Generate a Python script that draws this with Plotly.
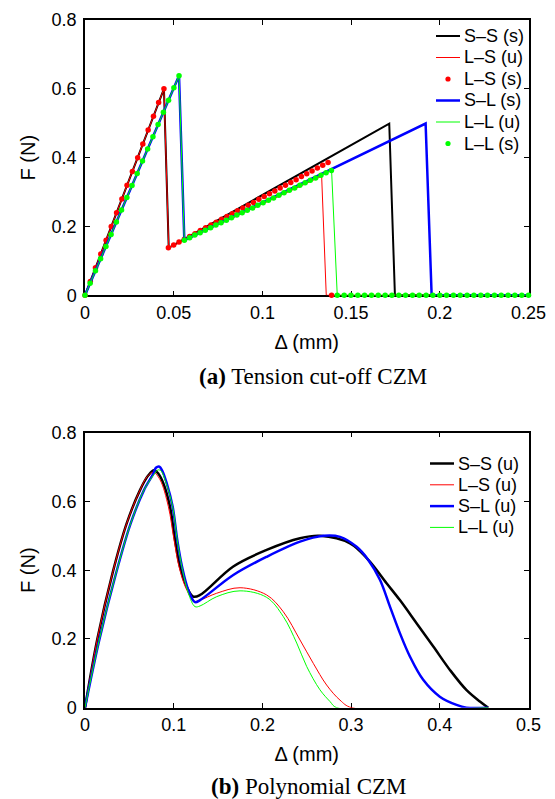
import plotly.graph_objects as go

# ---------------- (a) Tension cut-off CZM ----------------
ss_s_x = [0, 0.0445, 0.0472, 0.1715, 0.1747, 0.25]
ss_s_y = [0, 0.600, 0.138, 0.499, 0, 0]

ls_u_x = [0, 0.0445, 0.0472, 0.1334, 0.1360, 0.25]
ls_u_y = [0, 0.600, 0.138, 0.346, 0, 0]

ls_s_x = [0.0000, 0.0030, 0.0059, 0.0089, 0.0119, 0.0148, 0.0178, 0.0208, 0.0237, 0.0267,
          0.0297, 0.0326, 0.0356, 0.0386, 0.0415, 0.0445,
          0.047, 0.050, 0.053, 0.056, 0.059, 0.062, 0.065, 0.068, 0.071, 0.074,
          0.077, 0.080, 0.083, 0.086, 0.089, 0.092, 0.095, 0.098, 0.101, 0.104,
          0.107, 0.110, 0.113, 0.116, 0.119, 0.122, 0.125, 0.128, 0.131, 0.134,
          0.137, 0.139]
ls_s_y = [0.00, 0.04, 0.08, 0.12, 0.16, 0.20, 0.24, 0.28, 0.32, 0.36,
          0.40, 0.44, 0.48, 0.52, 0.56, 0.60,
          0.138, 0.146, 0.155, 0.163, 0.171, 0.179, 0.188, 0.196, 0.204, 0.212,
          0.221, 0.229, 0.237, 0.246, 0.254, 0.262, 0.270, 0.279, 0.287, 0.295,
          0.303, 0.312, 0.320, 0.328, 0.336, 0.345, 0.353, 0.361, 0.370, 0.378,
          0.386, 0.0]

sl_s_x = [0, 0.0530, 0.0560, 0.1920, 0.1954, 0.25]
sl_s_y = [0, 0.638, 0.160, 0.499, 0, 0]

ll_u_x = [0, 0.0530, 0.0560, 0.1390, 0.1422, 0.25]
ll_u_y = [0, 0.638, 0.160, 0.363, 0, 0]

ll_s_x = [0.0000, 0.0029, 0.0059, 0.0088, 0.0118, 0.0147, 0.0177, 0.0206, 0.0236, 0.0265,
          0.0294, 0.0324, 0.0353, 0.0383, 0.0412, 0.0442, 0.0471, 0.0501, 0.0530,
          0.0560, 0.0590, 0.0619, 0.0649, 0.0678, 0.0708, 0.0738, 0.0767, 0.0797, 0.0826,
          0.0856, 0.0886, 0.0915, 0.0945, 0.0974, 0.1004, 0.1034, 0.1063, 0.1093, 0.1122,
          0.1152, 0.1182, 0.1211, 0.1241, 0.1270, 0.1300, 0.1330, 0.1359, 0.1389,
          0.1422, 0.1461, 0.1499, 0.1538, 0.1576, 0.1615, 0.1653, 0.1692, 0.1730, 0.1769,
          0.1807, 0.1846, 0.1884, 0.1923, 0.1961, 0.2000, 0.2038, 0.2077, 0.2115, 0.2154,
          0.2192, 0.2231, 0.2269, 0.2308, 0.2346, 0.2385, 0.2423, 0.2462, 0.2500]
ll_s_y = [0.000, 0.035, 0.071, 0.106, 0.142, 0.177, 0.213, 0.248, 0.284, 0.319,
          0.354, 0.390, 0.425, 0.461, 0.496, 0.532, 0.567, 0.603, 0.638,
          0.160, 0.167, 0.175, 0.182, 0.189, 0.196, 0.204, 0.211, 0.218, 0.225,
          0.233, 0.240, 0.247, 0.254, 0.262, 0.269, 0.276, 0.283, 0.291, 0.298,
          0.305, 0.312, 0.320, 0.327, 0.334, 0.341, 0.349, 0.356, 0.363,
          0, 0, 0, 0, 0, 0, 0, 0, 0, 0,
          0, 0, 0, 0, 0, 0, 0, 0, 0, 0,
          0, 0, 0, 0, 0, 0, 0, 0, 0]

# ---------------- (b) Polynomial CZM ----------------
ss_u_x = [0, 0.0139, 0.0312, 0.0470, 0.0620, 0.0714, 0.0778, 0.0830, 0.0883, 0.0958,
          0.1015, 0.1071, 0.1146, 0.1221, 0.1297, 0.1672, 0.2048, 0.2424, 0.2650, 0.2988,
          0.3194, 0.3400, 0.3550, 0.3740, 0.3927, 0.4114, 0.4302, 0.4452, 0.4546]
ss_u_y = [0, 0.200, 0.393, 0.536, 0.633, 0.676, 0.691, 0.680, 0.653, 0.585,
          0.488, 0.410, 0.352, 0.323, 0.328, 0.411, 0.459, 0.493, 0.500, 0.478,
          0.430, 0.362, 0.313, 0.245, 0.178, 0.110, 0.051, 0.018, 0]

lsb_u_x = [0, 0.0139, 0.0312, 0.0470, 0.0620, 0.0700, 0.0770, 0.0846, 0.0940, 0.1004,
           0.1060, 0.1139, 0.1229, 0.1297, 0.1485, 0.1748, 0.2048, 0.2236, 0.2424, 0.2574,
           0.2724, 0.2875, 0.3006, 0.4546]
lsb_u_y = [0, 0.200, 0.393, 0.536, 0.633, 0.672, 0.685, 0.663, 0.585, 0.488,
           0.410, 0.347, 0.310, 0.313, 0.333, 0.349, 0.328, 0.279, 0.197, 0.129,
           0.066, 0.022, 0, 0]

sl_u_x = [0, 0.0161, 0.0350, 0.0515, 0.0665, 0.0771, 0.0800, 0.0840, 0.0870, 0.0921,
          0.0988, 0.1040, 0.1094, 0.1165, 0.1240, 0.1297, 0.1672, 0.2048, 0.2424, 0.2687,
          0.2875, 0.3062, 0.3194, 0.3325, 0.3438, 0.3550, 0.3663, 0.3813, 0.4000, 0.4189,
          0.4300, 0.4546]
sl_u_y = [0, 0.197, 0.391, 0.536, 0.633, 0.681, 0.698, 0.701, 0.690, 0.653,
          0.585, 0.488, 0.410, 0.342, 0.307, 0.313, 0.386, 0.439, 0.483, 0.500,
          0.497, 0.468, 0.430, 0.372, 0.294, 0.217, 0.149, 0.081, 0.032, 0.008,
          0, 0]

llb_u_x = [0, 0.0161, 0.0350, 0.0515, 0.0665, 0.0771, 0.0825, 0.0860, 0.0902, 0.0988,
           0.1040, 0.1100, 0.1165, 0.1240, 0.1297, 0.1485, 0.1748, 0.2048, 0.2236, 0.2387,
           0.2499, 0.2649, 0.2762, 0.2837, 0.4546]
llb_u_y = [0, 0.197, 0.391, 0.536, 0.633, 0.676, 0.692, 0.688, 0.663, 0.585,
           0.488, 0.400, 0.333, 0.294, 0.296, 0.323, 0.340, 0.321, 0.265, 0.188,
           0.120, 0.052, 0.018, 0, 0]

# tick labels
xa_ticks = [0, 0.05, 0.1, 0.15, 0.2, 0.25]
xa_text = ["0", "0.05", "0.1", "0.15", "0.2", "0.25"]
xb_ticks = [0, 0.1, 0.2, 0.3, 0.4, 0.5]
xb_text = ["0", "0.1", "0.2", "0.3", "0.4", "0.5"]
y_ticks = [0, 0.2, 0.4, 0.6, 0.8]
y_text = ["0", "0.2", "0.4", "0.6", "0.8"]

legend_a = ["S–S (s)", "L–S (u)", "L–S (s)", "S–L (s)", "L–L (u)", "L–L (s)"]
legend_b = ["S–S (u)", "L–S (u)", "S–L (u)", "L–L (u)"]

BLACK, RED, BLUE, GREEN = "#000000", "#ff0000", "#0000ff", "#00ff00"
SANS = "Liberation Sans, Arial, sans-serif"
SERIF = "Liberation Serif, Times New Roman, serif"

# the page body has an 8 px margin: lay out in window pixels, offset by it
OFF = 8
W, H = 555 - OFF, 799 - OFF
fig = go.Figure()

def line(x, y, color, width, xa, ya, shape="linear"):
    fig.add_trace(go.Scatter(x=x, y=y, mode="lines", xaxis=xa, yaxis=ya,
                             line=dict(color=color, width=width, shape=shape),
                             cliponaxis=False, showlegend=False, hoverinfo="skip"))

def dots(x, y, color, xa, ya):
    fig.add_trace(go.Scatter(x=x, y=y, mode="markers", xaxis=xa, yaxis=ya,
                             marker=dict(color=color, size=5.5, line=dict(width=0)),
                             cliponaxis=False, showlegend=False, hoverinfo="skip"))

# panel (a)
line(ss_s_x, ss_s_y, BLACK, 2, "x", "y")
line(ls_u_x, ls_u_y, RED, 1, "x", "y")
dots(ls_s_x, ls_s_y, RED, "x", "y")
line(sl_s_x, sl_s_y, BLUE, 2.5, "x", "y")
line(ll_u_x, ll_u_y, GREEN, 1, "x", "y")
dots(ll_s_x, ll_s_y, GREEN, "x", "y")

# panel (b)
line(ss_u_x, ss_u_y, BLACK, 2.5, "x2", "y2", "spline")
line(lsb_u_x, lsb_u_y, RED, 1, "x2", "y2", "spline")
line(sl_u_x, sl_u_y, BLUE, 2.5, "x2", "y2", "spline")
line(llb_u_x, llb_u_y, GREEN, 1, "x2", "y2", "spline")

# geometry (window pixels)
XL, XR = 85, 528.5
A_TOP, A_BOT = 20, 295.3
B_TOP, B_BOT = 432.7, 707.7
px = lambda v: (v - OFF) / W
py = lambda v: 1 - (v - OFF) / H

axis_common = dict(showline=True, linecolor="black", linewidth=1.5, mirror="ticks",
                   ticks="inside", ticklen=5, tickwidth=1, tickcolor="black",
                   showgrid=False, zeroline=False, layer="below traces", automargin=False,
                   tickfont=dict(family=SANS, size=18, color="black"),
                   title_font=dict(family=SANS, size=20, color="black"))

fig.update_layout(
    width=W, height=H, margin=dict(l=0, r=0, t=0, b=0),
    paper_bgcolor="white", plot_bgcolor="white", showlegend=False,
    xaxis=dict(axis_common, domain=[px(XL), px(XR)], anchor="y", range=[0, 0.25],
               tickvals=xa_ticks, ticktext=xa_text, title=dict(text="Δ (mm)", standoff=13)),
    yaxis=dict(axis_common, domain=[py(A_BOT), py(A_TOP)], anchor="x", range=[0, 0.8],
               tickvals=y_ticks, ticktext=y_text, ticklabelstandoff=3,
               title=dict(text="F (N)", standoff=11)),
    xaxis2=dict(axis_common, domain=[px(XL), px(XR)], anchor="y2", range=[0, 0.5],
                tickvals=xb_ticks, ticktext=xb_text, title=dict(text="Δ (mm)", standoff=13)),
    yaxis2=dict(axis_common, domain=[py(B_BOT), py(B_TOP)], anchor="x2", range=[0, 0.8],
                tickvals=y_ticks, ticktext=y_text, ticklabelstandoff=3,
                title=dict(text="F (N)", standoff=11)),
)

shapes, annos = [], []

def legend_entry(label, yc, x0, x1, color, width, kind):
    if kind == "line":
        shapes.append(dict(type="line", xref="paper", yref="paper",
                           x0=px(x0), x1=px(x1), y0=py(yc), y1=py(yc),
                           line=dict(color=color, width=width)))
    else:
        xc = (x0 + x1) / 2
        shapes.append(dict(type="circle", xref="paper", yref="paper",
                           xsizemode="pixel", ysizemode="pixel",
                           xanchor=px(xc), yanchor=py(yc),
                           x0=-2.6, x1=2.6, y0=-2.6, y1=2.6,
                           fillcolor=color, line=dict(width=0)))
    annos.append(dict(text=label, xref="paper", yref="paper", x=px(x1 + 1.5), y=py(yc),
                      xanchor="left", yanchor="middle", showarrow=False,
                      font=dict(family=SANS, size=18, color="black")))

specs_a = [(BLACK, 2, "line"), (RED, 1, "line"), (RED, 0, "dot"),
           (BLUE, 2.5, "line"), (GREEN, 1, "line"), (GREEN, 0, "dot")]
for i, (lab, (c, w, k)) in enumerate(zip(legend_a, specs_a)):
    legend_entry(lab, 36 + i * 21.5, 436, 460, c, w, k)

specs_b = [(BLACK, 2.5, "line"), (RED, 1, "line"), (BLUE, 2.5, "line"), (GREEN, 1, "line")]
for i, (lab, (c, w, k)) in enumerate(zip(legend_b, specs_b)):
    legend_entry(lab, 463.5 + i * 21.3, 430, 454, c, w, k)

# captions
annos.append(dict(text="<b>(a)</b> Tension cut-off CZM", xref="paper", yref="paper",
                  x=px(313), y=py(377), xanchor="center", yanchor="middle", showarrow=False,
                  font=dict(family=SERIF, size=23, color="black")))
annos.append(dict(text="<b>(b)</b> Polynomial CZM", xref="paper", yref="paper",
                  x=px(308.5), y=py(786), xanchor="center", yanchor="middle", showarrow=False,
                  font=dict(family=SERIF, size=23, color="black")))

fig.update_layout(shapes=shapes, annotations=annos)
fig.write_html("out.html")
